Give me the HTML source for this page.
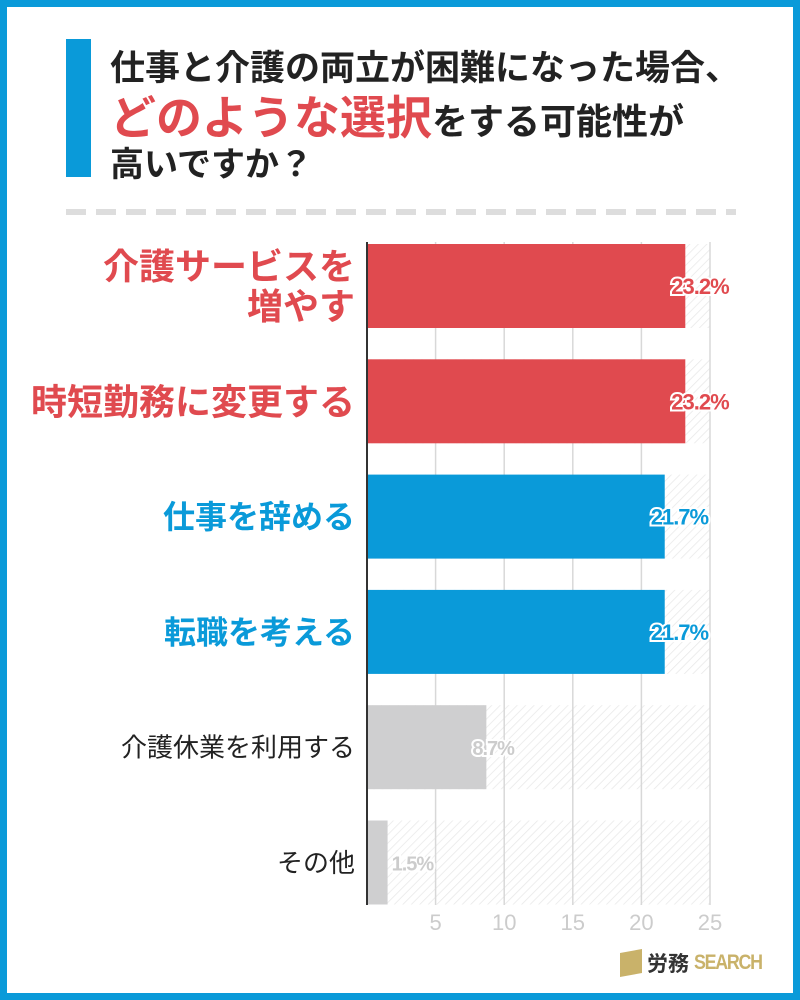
<!DOCTYPE html>
<html><head><meta charset="utf-8"><style>
body{margin:0;width:800px;height:1000px;overflow:hidden;background:#0a9ad9;font-family:"Liberation Sans","Noto Sans CJK JP",sans-serif;}
#frame{position:absolute;left:7px;top:7px;width:786px;height:986px;background:#fff;}
.t{position:absolute;left:110px;font-weight:bold;color:#222;white-space:nowrap;}
</style></head><body>
<div id="frame"></div>
<div style="position:absolute;left:66px;top:39px;width:25px;height:138px;background:#0a9ad9"></div>
<div class="t" style="top:40px;font-size:35px;">仕事と介護の両立が困難になった場合、</div>
<div class="t" style="top:82px;font-size:36px;"><span style="color:#e04a4f;font-size:46px;">どのような選択</span>をする可能性が</div>
<div class="t" style="top:137px;font-size:34px;">高いですか？</div>
<div style="position:absolute;left:66px;top:209px;width:670px;height:6px;background:repeating-linear-gradient(90deg,#ddd 0 20px,transparent 20px 30px)"></div>
<svg id="chart" width="800" height="1000" style="position:absolute;left:0;top:0">
<defs><pattern id="h" width="6" height="6" patternUnits="userSpaceOnUse" patternTransform="rotate(45)"><line x1="0" y1="0" x2="0" y2="6" stroke="#e8e8e8" stroke-width="1.5"/></pattern></defs>
</svg>
<div style="position:absolute;left:620px;top:948px;display:flex;align-items:center;gap:5px;">
<div style="width:22px;height:24px;background:#c9b26a;transform:skewY(-10deg)"></div>
<span style="font-weight:bold;font-size:21px;color:#333">労務</span><span style="font-weight:bold;font-size:21px;color:#c9b26a;letter-spacing:-1.5px;transform:scaleX(0.85);transform-origin:left;display:inline-block">SEARCH</span></div>
<script>
const categories=["介護サービスを\n増やす","時短勤務に変更する","仕事を辞める","転職を考える","介護休業を利用する","その他"];
const values=[23.2,23.2,21.7,21.7,8.7,1.5];
const ticks=[5,10,15,20,25];
const colors=["#e04a4f","#e04a4f","#0a9ad9","#0a9ad9","#cfcfd0","#cfcfd0"];
const labelColors=["#e04a4f","#e04a4f","#0a9ad9","#0a9ad9","#222","#222"];
const svg=document.getElementById('chart');const NS="http://www.w3.org/2000/svg";
const x=v=>367+v*13.72;const y0=244,band=115.3,bh=84;
function mk(t,a){const e=document.createElementNS(NS,t);for(const k in a)e.setAttribute(k,a[k]);svg.appendChild(e);return e;}
for(let i=0;i<values.length;i++){
 const yy=y0+i*band;
 const bg=mk('rect',{x:x(0),y:yy,width:x(25)-x(0),height:bh,fill:'url(#h)'});
 
 
}
ticks.forEach(t=>{
 const l=mk('line',{x1:x(t),x2:x(t),y1:y0-2,y2:905,stroke:'#d8d8d8','stroke-width':1.5});
 
 
 const tx=mk('text',{x:x(t),y:930,'text-anchor':'middle','font-size':22,fill:'#ccc'});tx.textContent=t;
 
 
});
for(let i=0;i<values.length;i++){
 const yy=y0+i*band;const big=i<4;
 const fs=i<2?36:(i<4?32:26);
 const r=mk('rect',{x:x(0),y:yy,width:x(values[i])-x(0),height:bh,fill:colors[i]});
 
 
 const v=mk('text',{x:x(values[i])-14,y:yy+bh/2+8,'font-size':big?22:20,'font-weight':'bold',fill:big?colors[i]:'#ccc',stroke:'#fff','stroke-width':4,'paint-order':'stroke','letter-spacing':-1});
 if(i==5)v.setAttribute('x',x(values[i])+4);
 v.textContent=values[i]+'%';
 
 
 const lines=categories[i].split('\n');
 lines.forEach((ln,j)=>{
  const c=mk('text',{x:355,y:yy+bh/2+fs*0.36+(j-(lines.length-1)/2)*40,'text-anchor':'end','font-size':fs,'font-weight':big?'bold':'normal',fill:labelColors[i]});
  c.textContent=ln;
  
  
 });
}
const ax=mk('line',{x1:x(0),x2:x(0),y1:y0-2,y2:905,stroke:'#333','stroke-width':2});


</script>
</body></html>
